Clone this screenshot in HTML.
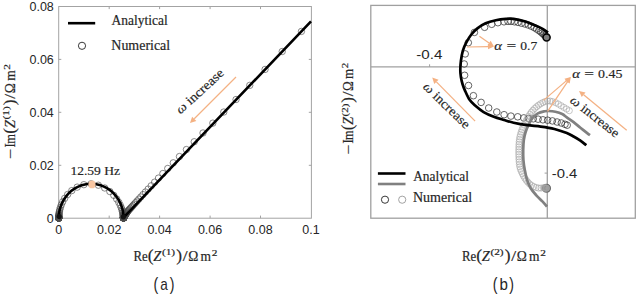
<!DOCTYPE html>
<html><head><meta charset="utf-8"><style>
html,body{margin:0;padding:0;background:#fff;}
body{width:637px;height:294px;overflow:hidden;font-family:"Liberation Sans",sans-serif;}
svg{display:block;}
</style></head><body>
<svg width="637" height="294" viewBox="0 0 637 294">
<rect width="637" height="294" fill="#fff"/>
<g stroke="#a3a3a3" stroke-width="1" fill="none">
<rect x="58.7" y="6.5" width="252.7" height="211.7"/>
<line x1="109.2" y1="218.2" x2="109.2" y2="215.6"/>
<line x1="109.2" y1="6.5" x2="109.2" y2="9.1"/>
<line x1="159.6" y1="218.2" x2="159.6" y2="215.6"/>
<line x1="159.6" y1="6.5" x2="159.6" y2="9.1"/>
<line x1="210.1" y1="218.2" x2="210.1" y2="215.6"/>
<line x1="210.1" y1="6.5" x2="210.1" y2="9.1"/>
<line x1="260.5" y1="218.2" x2="260.5" y2="215.6"/>
<line x1="260.5" y1="6.5" x2="260.5" y2="9.1"/>
<line x1="58.7" y1="165.3" x2="61.3" y2="165.3"/>
<line x1="311.4" y1="165.3" x2="308.8" y2="165.3"/>
<line x1="58.7" y1="112.3" x2="61.3" y2="112.3"/>
<line x1="311.4" y1="112.3" x2="308.8" y2="112.3"/>
<line x1="58.7" y1="59.4" x2="61.3" y2="59.4"/>
<line x1="311.4" y1="59.4" x2="308.8" y2="59.4"/>
</g>
<g font-family="Liberation Sans" font-size="12.5" fill="#262626">
<text x="58.7" y="234.2" text-anchor="middle">0</text>
<text x="109.2" y="234.2" text-anchor="middle">0.02</text>
<text x="159.6" y="234.2" text-anchor="middle">0.04</text>
<text x="210.1" y="234.2" text-anchor="middle">0.06</text>
<text x="260.5" y="234.2" text-anchor="middle">0.08</text>
<text x="311.0" y="234.2" text-anchor="middle">0.1</text>
<text x="53.8" y="222.7" text-anchor="end">0</text>
<text x="53.8" y="169.8" text-anchor="end">0.02</text>
<text x="53.8" y="116.8" text-anchor="end">0.04</text>
<text x="53.8" y="63.9" text-anchor="end">0.06</text>
<text x="53.8" y="11.0" text-anchor="end">0.08</text>
</g>
<g stroke="#4a4a4a" stroke-width="0.65" fill="none">
<circle cx="123.50" cy="218.00" r="3.2"/>
<circle cx="123.50" cy="218.00" r="3.2"/>
<circle cx="123.50" cy="218.00" r="3.2"/>
<circle cx="123.50" cy="218.00" r="3.2"/>
<circle cx="123.50" cy="218.00" r="3.2"/>
<circle cx="123.50" cy="218.00" r="3.2"/>
<circle cx="123.50" cy="218.00" r="3.2"/>
<circle cx="123.50" cy="218.00" r="3.2"/>
<circle cx="123.50" cy="218.00" r="3.2"/>
<circle cx="123.50" cy="218.00" r="3.2"/>
<circle cx="123.50" cy="217.99" r="3.2"/>
<circle cx="123.50" cy="217.99" r="3.2"/>
<circle cx="123.50" cy="217.99" r="3.2"/>
<circle cx="123.50" cy="217.99" r="3.2"/>
<circle cx="123.50" cy="217.99" r="3.2"/>
<circle cx="123.50" cy="217.98" r="3.2"/>
<circle cx="123.50" cy="217.98" r="3.2"/>
<circle cx="123.50" cy="217.97" r="3.2"/>
<circle cx="123.50" cy="217.97" r="3.2"/>
<circle cx="123.50" cy="217.96" r="3.2"/>
<circle cx="123.50" cy="217.95" r="3.2"/>
<circle cx="123.50" cy="217.93" r="3.2"/>
<circle cx="123.49" cy="217.91" r="3.2"/>
<circle cx="123.49" cy="217.89" r="3.2"/>
<circle cx="123.49" cy="217.86" r="3.2"/>
<circle cx="123.49" cy="217.83" r="3.2"/>
<circle cx="123.48" cy="217.78" r="3.2"/>
<circle cx="123.48" cy="217.73" r="3.2"/>
<circle cx="123.47" cy="217.66" r="3.2"/>
<circle cx="123.47" cy="217.57" r="3.2"/>
<circle cx="123.46" cy="217.46" r="3.2"/>
<circle cx="123.45" cy="217.32" r="3.2"/>
<circle cx="123.43" cy="217.14" r="3.2"/>
<circle cx="123.41" cy="216.92" r="3.2"/>
<circle cx="123.38" cy="216.64" r="3.2"/>
<circle cx="123.34" cy="216.29" r="3.2"/>
<circle cx="123.28" cy="215.85" r="3.2"/>
<circle cx="123.21" cy="215.30" r="3.2"/>
<circle cx="123.10" cy="214.61" r="3.2"/>
<circle cx="122.95" cy="213.74" r="3.2"/>
<circle cx="122.73" cy="212.66" r="3.2"/>
<circle cx="122.40" cy="211.33" r="3.2"/>
<circle cx="121.93" cy="209.67" r="3.2"/>
<circle cx="121.25" cy="207.65" r="3.2"/>
<circle cx="120.24" cy="205.22" r="3.2"/>
<circle cx="118.79" cy="202.33" r="3.2"/>
<circle cx="116.71" cy="199.01" r="3.2"/>
<circle cx="113.80" cy="195.34" r="3.2"/>
<circle cx="109.85" cy="191.54" r="3.2"/>
<circle cx="104.69" cy="187.98" r="3.2"/>
<circle cx="98.36" cy="185.20" r="3.2"/>
<circle cx="91.15" cy="183.80" r="3.2"/>
<circle cx="83.83" cy="184.69" r="3.2"/>
<circle cx="77.22" cy="187.13" r="3.2"/>
<circle cx="71.79" cy="190.60" r="3.2"/>
<circle cx="67.65" cy="194.49" r="3.2"/>
<circle cx="64.68" cy="198.34" r="3.2"/>
<circle cx="62.64" cy="201.84" r="3.2"/>
<circle cx="61.28" cy="204.87" r="3.2"/>
<circle cx="60.39" cy="207.42" r="3.2"/>
<circle cx="59.81" cy="209.52" r="3.2"/>
<circle cx="59.44" cy="211.23" r="3.2"/>
<circle cx="59.21" cy="212.60" r="3.2"/>
<circle cx="59.06" cy="213.70" r="3.2"/>
<circle cx="58.96" cy="214.58" r="3.2"/>
<circle cx="58.90" cy="215.28" r="3.2"/>
<circle cx="58.86" cy="215.84" r="3.2"/>
<circle cx="58.84" cy="216.28" r="3.2"/>
<circle cx="58.83" cy="216.64" r="3.2"/>
<circle cx="58.82" cy="216.92" r="3.2"/>
<circle cx="58.81" cy="217.14" r="3.2"/>
<circle cx="58.81" cy="217.32" r="3.2"/>
<circle cx="58.80" cy="217.46" r="3.2"/>
<circle cx="58.80" cy="217.57" r="3.2"/>
<circle cx="58.80" cy="217.66" r="3.2"/>
<circle cx="58.80" cy="217.73" r="3.2"/>
<circle cx="58.80" cy="217.78" r="3.2"/>
<circle cx="58.80" cy="217.83" r="3.2"/>
<circle cx="58.80" cy="217.86" r="3.2"/>
<circle cx="58.80" cy="217.89" r="3.2"/>
<circle cx="58.80" cy="217.91" r="3.2"/>
<circle cx="58.80" cy="217.93" r="3.2"/>
<circle cx="58.80" cy="217.95" r="3.2"/>
<circle cx="58.80" cy="217.96" r="3.2"/>
<circle cx="58.80" cy="217.97" r="3.2"/>
<circle cx="58.80" cy="217.97" r="3.2"/>
<circle cx="58.80" cy="217.98" r="3.2"/>
<circle cx="58.80" cy="217.98" r="3.2"/>
<circle cx="58.80" cy="217.99" r="3.2"/>
<circle cx="58.80" cy="217.99" r="3.2"/>
<circle cx="58.80" cy="217.99" r="3.2"/>
<circle cx="58.80" cy="217.99" r="3.2"/>
<circle cx="58.80" cy="217.99" r="3.2"/>
<circle cx="58.80" cy="218.00" r="3.2"/>
<circle cx="58.80" cy="218.00" r="3.2"/>
<circle cx="58.80" cy="218.00" r="3.2"/>
<circle cx="58.80" cy="218.00" r="3.2"/>
<circle cx="58.80" cy="218.00" r="3.2"/>
<circle cx="58.80" cy="218.00" r="3.2"/>
<circle cx="58.80" cy="218.00" r="3.2"/>
<circle cx="301.44" cy="31.41" r="3.2"/>
<circle cx="282.22" cy="51.51" r="3.2"/>
<circle cx="265.06" cy="69.43" r="3.2"/>
<circle cx="249.75" cy="85.36" r="3.2"/>
<circle cx="236.05" cy="99.51" r="3.2"/>
<circle cx="223.79" cy="112.04" r="3.2"/>
<circle cx="212.82" cy="123.14" r="3.2"/>
<circle cx="203.00" cy="132.97" r="3.2"/>
<circle cx="194.23" cy="141.73" r="3.2"/>
<circle cx="186.41" cy="149.54" r="3.2"/>
<circle cx="179.45" cy="156.53" r="3.2"/>
<circle cx="173.26" cy="162.81" r="3.2"/>
<circle cx="167.76" cy="168.45" r="3.2"/>
<circle cx="162.86" cy="173.51" r="3.2"/>
<circle cx="158.51" cy="178.06" r="3.2"/>
<circle cx="154.64" cy="182.14" r="3.2"/>
<circle cx="151.20" cy="185.80" r="3.2"/>
<circle cx="148.14" cy="189.08" r="3.2"/>
<circle cx="145.41" cy="192.02" r="3.2"/>
<circle cx="142.98" cy="194.64" r="3.2"/>
<circle cx="140.81" cy="196.99" r="3.2"/>
<circle cx="138.88" cy="199.09" r="3.2"/>
<circle cx="137.16" cy="200.96" r="3.2"/>
<circle cx="135.63" cy="202.63" r="3.2"/>
<circle cx="134.26" cy="204.13" r="3.2"/>
<circle cx="133.04" cy="205.46" r="3.2"/>
<circle cx="131.96" cy="206.65" r="3.2"/>
<circle cx="130.99" cy="207.71" r="3.2"/>
<circle cx="130.12" cy="208.66" r="3.2"/>
<circle cx="129.35" cy="209.51" r="3.2"/>
<circle cx="128.66" cy="210.26" r="3.2"/>
<circle cx="128.05" cy="210.93" r="3.2"/>
<circle cx="127.55" cy="211.63" r="3.2"/>
<circle cx="127.11" cy="212.27" r="3.2"/>
<circle cx="126.72" cy="212.85" r="3.2"/>
<circle cx="126.37" cy="213.36" r="3.2"/>
<circle cx="126.06" cy="213.82" r="3.2"/>
<circle cx="125.79" cy="214.23" r="3.2"/>
<circle cx="125.54" cy="214.59" r="3.2"/>
<circle cx="125.32" cy="214.92" r="3.2"/>
<circle cx="125.12" cy="215.21" r="3.2"/>
<circle cx="124.95" cy="215.47" r="3.2"/>
<circle cx="124.79" cy="215.70" r="3.2"/>
<circle cx="124.65" cy="215.90" r="3.2"/>
<circle cx="124.53" cy="216.09" r="3.2"/>
<circle cx="124.42" cy="216.25" r="3.2"/>
<circle cx="124.32" cy="216.39" r="3.2"/>
<circle cx="124.23" cy="216.52" r="3.2"/>
<circle cx="124.15" cy="216.64" r="3.2"/>
<circle cx="124.08" cy="216.74" r="3.2"/>
<circle cx="124.02" cy="216.84" r="3.2"/>
<circle cx="123.96" cy="216.92" r="3.2"/>
<circle cx="123.91" cy="216.99" r="3.2"/>
<circle cx="123.87" cy="217.06" r="3.2"/>
<circle cx="123.83" cy="217.12" r="3.2"/>
<circle cx="123.79" cy="217.17" r="3.2"/>
<circle cx="123.76" cy="217.22" r="3.2"/>
<circle cx="123.73" cy="217.26" r="3.2"/>
<circle cx="123.71" cy="217.29" r="3.2"/>
<circle cx="123.68" cy="217.33" r="3.2"/>
</g>
<path d="M58.80,218.00 L58.82,216.79 L58.88,215.59 L58.98,214.39 L59.12,213.19 L59.30,212.00 L59.52,210.81 L59.78,209.64 L60.08,208.47 L60.42,207.32 L60.79,206.18 L61.21,205.05 L61.66,203.94 L62.15,202.85 L62.67,201.78 L63.23,200.73 L63.82,199.70 L64.45,198.69 L65.11,197.70 L65.81,196.74 L66.53,195.81 L67.29,194.91 L68.07,194.03 L68.89,193.19 L69.73,192.37 L70.60,191.59 L71.49,190.84 L72.41,190.12 L73.36,189.44 L74.32,188.79 L75.31,188.18 L76.31,187.61 L77.33,187.08 L78.38,186.58 L79.43,186.12 L80.50,185.70 L81.59,185.33 L82.69,184.99 L83.79,184.70 L84.91,184.44 L86.03,184.23 L87.16,184.06 L88.30,183.93 L89.44,183.85 L90.58,183.81 L91.72,183.81 L92.86,183.85 L94.00,183.93 L95.14,184.06 L96.27,184.23 L97.39,184.44 L98.51,184.70 L99.61,184.99 L100.71,185.33 L101.80,185.70 L102.87,186.12 L103.92,186.58 L104.97,187.08 L105.99,187.61 L106.99,188.18 L107.98,188.79 L108.94,189.44 L109.89,190.12 L110.81,190.84 L111.70,191.59 L112.57,192.37 L113.41,193.19 L114.23,194.03 L115.01,194.91 L115.77,195.81 L116.49,196.74 L117.19,197.70 L117.85,198.69 L118.48,199.70 L119.07,200.73 L119.63,201.78 L120.15,202.85 L120.64,203.94 L121.09,205.05 L121.51,206.18 L121.88,207.32 L122.22,208.47 L122.52,209.64 L122.78,210.81 L123.00,212.00 L123.18,213.19 L123.32,214.39 L123.42,215.59 L123.48,216.79 L123.50,217.60 L311.00,21.40" stroke="#000" stroke-width="2.6" fill="none" stroke-linejoin="round"/>
<circle cx="59.2" cy="216.6" r="2.6" fill="#111"/>
<circle cx="123.3" cy="216.8" r="2.6" fill="#111"/>
<ellipse cx="92" cy="184.4" rx="3.6" ry="3.9" fill="#f8c6a2"/>
<text x="70.40" y="174.80" font-family="Liberation Serif" font-size="12.80" fill="#262626" textLength="49.60" lengthAdjust="spacingAndGlyphs" stroke="#262626" stroke-width="0.18" >12.59 Hz</text>
<line x1="68" y1="23.2" x2="95.2" y2="23.2" stroke="#000" stroke-width="2.6"/>
<circle cx="82" cy="45.8" r="3.6" stroke="#222" stroke-width="0.9" fill="none"/>
<text transform="translate(111.55,25.10) scale(1,1.070)" font-family="Liberation Serif" font-size="12.70" fill="#262626" textLength="56.20" lengthAdjust="spacingAndGlyphs" stroke="#262626" stroke-width="0.18" >Analytical</text>
<text transform="translate(111.30,50.10) scale(1,1.070)" font-family="Liberation Serif" font-size="12.70" fill="#262626" textLength="58.90" lengthAdjust="spacingAndGlyphs" stroke="#262626" stroke-width="0.18" >Numerical</text>
<line x1="236.00" y1="77.00" x2="194.24" y2="118.76" stroke="#f4b183" stroke-width="1.25"/><path d="M190.00,123.00 L192.12,116.64 L196.36,120.88 Z" fill="#f4b183"/>
<g transform="translate(180.50,114.50) rotate(-42.50)"><text x="0.00" y="0.00" font-family="Liberation Serif" font-size="13.00" fill="#262626" textLength="60.00" lengthAdjust="spacingAndGlyphs" stroke="#262626" stroke-width="0.18" ><tspan font-style="italic">ω</tspan> increase</text></g>
<text transform="translate(133.41,260.70) scale(1,1.060)" font-family="Liberation Serif" font-size="13.00" fill="#262626" textLength="14.23" lengthAdjust="spacingAndGlyphs" stroke="#262626" stroke-width="0.18" >Re</text><text x="147.75" y="260.70" font-family="Liberation Serif" font-size="17.40" fill="#262626" textLength="5.79" lengthAdjust="spacingAndGlyphs" stroke="#262626" stroke-width="0.18" >(</text><text transform="translate(153.32,260.70) scale(1,1.060)" font-family="Liberation Serif" font-size="13.00" font-style="italic" fill="#262626" textLength="8.05" lengthAdjust="spacingAndGlyphs" stroke="#262626" stroke-width="0.18" >Z</text><text x="161.93" y="255.10" font-family="Liberation Serif" font-size="8.50" fill="#262626" textLength="13.21" lengthAdjust="spacingAndGlyphs" stroke="#262626" stroke-width="0.18" >(1)</text><text x="176.20" y="260.70" font-family="Liberation Serif" font-size="17.40" fill="#262626" textLength="5.79" lengthAdjust="spacingAndGlyphs" stroke="#262626" stroke-width="0.18" >)</text><text transform="translate(182.70,260.70) scale(1,1.060)" font-family="Liberation Serif" font-size="13.00" fill="#262626" textLength="4.85" lengthAdjust="spacingAndGlyphs" stroke="#262626" stroke-width="0.18" >/</text><text transform="translate(188.22,260.70) scale(1,1.060)" font-family="Liberation Serif" font-size="13.00" fill="#262626" textLength="10.07" lengthAdjust="spacingAndGlyphs" stroke="#262626" stroke-width="0.18" >Ω</text><text transform="translate(200.54,260.70) scale(1,1.060)" font-family="Liberation Serif" font-size="13.00" fill="#262626" textLength="10.48" lengthAdjust="spacingAndGlyphs" stroke="#262626" stroke-width="0.18" >m</text><text x="211.75" y="255.70" font-family="Liberation Serif" font-size="8.00" fill="#262626" textLength="5.66" lengthAdjust="spacingAndGlyphs" stroke="#262626" stroke-width="0.18" >2</text>
<text transform="translate(461.91,260.70) scale(1,1.060)" font-family="Liberation Serif" font-size="13.00" fill="#262626" textLength="14.23" lengthAdjust="spacingAndGlyphs" stroke="#262626" stroke-width="0.18" >Re</text><text x="476.25" y="260.70" font-family="Liberation Serif" font-size="17.40" fill="#262626" textLength="5.79" lengthAdjust="spacingAndGlyphs" stroke="#262626" stroke-width="0.18" >(</text><text transform="translate(481.82,260.70) scale(1,1.060)" font-family="Liberation Serif" font-size="13.00" font-style="italic" fill="#262626" textLength="8.05" lengthAdjust="spacingAndGlyphs" stroke="#262626" stroke-width="0.18" >Z</text><text x="490.43" y="255.10" font-family="Liberation Serif" font-size="8.50" fill="#262626" textLength="13.21" lengthAdjust="spacingAndGlyphs" stroke="#262626" stroke-width="0.18" >(2)</text><text x="504.70" y="260.70" font-family="Liberation Serif" font-size="17.40" fill="#262626" textLength="5.79" lengthAdjust="spacingAndGlyphs" stroke="#262626" stroke-width="0.18" >)</text><text transform="translate(511.20,260.70) scale(1,1.060)" font-family="Liberation Serif" font-size="13.00" fill="#262626" textLength="4.85" lengthAdjust="spacingAndGlyphs" stroke="#262626" stroke-width="0.18" >/</text><text transform="translate(516.72,260.70) scale(1,1.060)" font-family="Liberation Serif" font-size="13.00" fill="#262626" textLength="10.07" lengthAdjust="spacingAndGlyphs" stroke="#262626" stroke-width="0.18" >Ω</text><text transform="translate(529.04,260.70) scale(1,1.060)" font-family="Liberation Serif" font-size="13.00" fill="#262626" textLength="10.48" lengthAdjust="spacingAndGlyphs" stroke="#262626" stroke-width="0.18" >m</text><text x="540.25" y="255.70" font-family="Liberation Serif" font-size="8.00" fill="#262626" textLength="5.66" lengthAdjust="spacingAndGlyphs" stroke="#262626" stroke-width="0.18" >2</text>
<g transform="translate(14.60,157.90) rotate(-90) scale(1.0000,1)"><text transform="translate(-1.05,0.00) scale(1,1.060)" font-family="Liberation Serif" font-size="13.00" fill="#262626" textLength="10.26" lengthAdjust="spacingAndGlyphs" stroke="#262626" stroke-width="0.18" >−</text><text transform="translate(10.50,0.00) scale(1,1.060)" font-family="Liberation Serif" font-size="13.00" fill="#262626" stroke="#262626" stroke-width="0.18" >I</text><text transform="translate(14.05,0.00) scale(1,1.060)" font-family="Liberation Serif" font-size="13.00" fill="#262626" textLength="9.65" lengthAdjust="spacingAndGlyphs" stroke="#262626" stroke-width="0.18" >m</text><text x="24.25" y="0.00" font-family="Liberation Serif" font-size="17.40" fill="#262626" textLength="5.79" lengthAdjust="spacingAndGlyphs" stroke="#262626" stroke-width="0.18" >(</text><text transform="translate(29.82,0.00) scale(1,1.060)" font-family="Liberation Serif" font-size="13.00" font-style="italic" fill="#262626" textLength="8.05" lengthAdjust="spacingAndGlyphs" stroke="#262626" stroke-width="0.18" >Z</text><text x="38.43" y="-5.60" font-family="Liberation Serif" font-size="8.50" fill="#262626" textLength="13.21" lengthAdjust="spacingAndGlyphs" stroke="#262626" stroke-width="0.18" >(1)</text><text x="52.70" y="0.00" font-family="Liberation Serif" font-size="17.40" fill="#262626" textLength="5.79" lengthAdjust="spacingAndGlyphs" stroke="#262626" stroke-width="0.18" >)</text><text transform="translate(59.20,0.00) scale(1,1.060)" font-family="Liberation Serif" font-size="13.00" fill="#262626" textLength="4.85" lengthAdjust="spacingAndGlyphs" stroke="#262626" stroke-width="0.18" >/</text><text transform="translate(64.72,0.00) scale(1,1.060)" font-family="Liberation Serif" font-size="13.00" fill="#262626" textLength="10.07" lengthAdjust="spacingAndGlyphs" stroke="#262626" stroke-width="0.18" >Ω</text><text transform="translate(77.04,0.00) scale(1,1.060)" font-family="Liberation Serif" font-size="13.00" fill="#262626" textLength="10.48" lengthAdjust="spacingAndGlyphs" stroke="#262626" stroke-width="0.18" >m</text><text x="88.25" y="-5.00" font-family="Liberation Serif" font-size="8.00" fill="#262626" textLength="5.66" lengthAdjust="spacingAndGlyphs" stroke="#262626" stroke-width="0.18" >2</text></g>
<g transform="translate(353.10,153.60) rotate(-90) scale(0.9668,1)"><text transform="translate(-1.05,0.00) scale(1,1.060)" font-family="Liberation Serif" font-size="13.00" fill="#262626" textLength="10.26" lengthAdjust="spacingAndGlyphs" stroke="#262626" stroke-width="0.18" >−</text><text transform="translate(10.50,0.00) scale(1,1.060)" font-family="Liberation Serif" font-size="13.00" fill="#262626" stroke="#262626" stroke-width="0.18" >I</text><text transform="translate(14.05,0.00) scale(1,1.060)" font-family="Liberation Serif" font-size="13.00" fill="#262626" textLength="9.65" lengthAdjust="spacingAndGlyphs" stroke="#262626" stroke-width="0.18" >m</text><text x="24.25" y="0.00" font-family="Liberation Serif" font-size="17.40" fill="#262626" textLength="5.79" lengthAdjust="spacingAndGlyphs" stroke="#262626" stroke-width="0.18" >(</text><text transform="translate(29.82,0.00) scale(1,1.060)" font-family="Liberation Serif" font-size="13.00" font-style="italic" fill="#262626" textLength="8.05" lengthAdjust="spacingAndGlyphs" stroke="#262626" stroke-width="0.18" >Z</text><text x="38.43" y="-5.60" font-family="Liberation Serif" font-size="8.50" fill="#262626" textLength="13.21" lengthAdjust="spacingAndGlyphs" stroke="#262626" stroke-width="0.18" >(2)</text><text x="52.70" y="0.00" font-family="Liberation Serif" font-size="17.40" fill="#262626" textLength="5.79" lengthAdjust="spacingAndGlyphs" stroke="#262626" stroke-width="0.18" >)</text><text transform="translate(59.20,0.00) scale(1,1.060)" font-family="Liberation Serif" font-size="13.00" fill="#262626" textLength="4.85" lengthAdjust="spacingAndGlyphs" stroke="#262626" stroke-width="0.18" >/</text><text transform="translate(64.72,0.00) scale(1,1.060)" font-family="Liberation Serif" font-size="13.00" fill="#262626" textLength="10.07" lengthAdjust="spacingAndGlyphs" stroke="#262626" stroke-width="0.18" >Ω</text><text transform="translate(77.04,0.00) scale(1,1.060)" font-family="Liberation Serif" font-size="13.00" fill="#262626" textLength="10.48" lengthAdjust="spacingAndGlyphs" stroke="#262626" stroke-width="0.18" >m</text><text x="88.25" y="-5.00" font-family="Liberation Serif" font-size="8.00" fill="#262626" textLength="5.66" lengthAdjust="spacingAndGlyphs" stroke="#262626" stroke-width="0.18" >2</text></g>
<text x="153.60" y="289.80" font-family="Liberation Sans" font-size="17.60" fill="#262626" textLength="4.69" lengthAdjust="spacingAndGlyphs" >(</text>
<text x="160.30" y="289.80" font-family="Liberation Sans" font-size="17.00" fill="#262626" textLength="7.56" lengthAdjust="spacingAndGlyphs" >a</text>
<text x="169.70" y="289.80" font-family="Liberation Sans" font-size="17.60" fill="#262626" textLength="4.69" lengthAdjust="spacingAndGlyphs" >)</text>
<text x="492.80" y="289.80" font-family="Liberation Sans" font-size="17.60" fill="#262626" textLength="4.69" lengthAdjust="spacingAndGlyphs" >(</text>
<text x="499.60" y="289.80" font-family="Liberation Sans" font-size="17.00" fill="#262626" textLength="8.41" lengthAdjust="spacingAndGlyphs" >b</text>
<text x="509.30" y="289.80" font-family="Liberation Sans" font-size="17.60" fill="#262626" textLength="4.69" lengthAdjust="spacingAndGlyphs" >)</text>
<rect x="370.8" y="5.4" width="264.5" height="212.8" stroke="#a0a0a0" stroke-width="1.3" fill="none"/>
<line x1="547.3" y1="5.4" x2="547.3" y2="218.2" stroke="#a0a0a0" stroke-width="1.3"/>
<line x1="370.8" y1="66.9" x2="635.3" y2="66.9" stroke="#a0a0a0" stroke-width="1.3"/>
<line x1="429.6" y1="66.9" x2="429.6" y2="64.3" stroke="#a0a0a0" stroke-width="1"/>
<line x1="547.3" y1="173.1" x2="544.6" y2="173.1" stroke="#a0a0a0" stroke-width="1"/>
<text x="416.30" y="59.20" font-family="Liberation Sans" font-size="13.50" fill="#262626" textLength="26.13" lengthAdjust="spacingAndGlyphs" >-0.4</text>
<text x="551.70" y="177.60" font-family="Liberation Sans" font-size="13.50" fill="#262626" textLength="25.61" lengthAdjust="spacingAndGlyphs" >-0.4</text>
<g stroke="#333" stroke-width="0.75" fill="none">
<circle cx="464.20" cy="64.00" r="3.3"/>
<circle cx="464.60" cy="75.30" r="3.3"/>
<circle cx="468.50" cy="85.50" r="3.3"/>
<circle cx="473.40" cy="95.70" r="3.3"/>
<circle cx="481.10" cy="102.40" r="3.3"/>
<circle cx="488.70" cy="108.00" r="3.3"/>
<circle cx="496.80" cy="112.00" r="3.3"/>
<circle cx="504.10" cy="114.70" r="3.3"/>
<circle cx="510.90" cy="116.10" r="3.3"/>
<circle cx="517.70" cy="116.80" r="3.3"/>
<circle cx="523.80" cy="117.90" r="3.3"/>
<circle cx="528.60" cy="118.40" r="3.3"/>
<circle cx="533.30" cy="118.80" r="3.3"/>
<circle cx="538.10" cy="119.20" r="3.3"/>
<circle cx="542.90" cy="119.80" r="3.3"/>
<circle cx="547.60" cy="120.20" r="3.3"/>
<circle cx="552.40" cy="120.90" r="3.3"/>
<circle cx="557.10" cy="122.00" r="3.3"/>
<circle cx="561.30" cy="123.00" r="3.3"/>
<circle cx="565.00" cy="124.30" r="3.3"/>
<circle cx="567.20" cy="125.20" r="3.3"/>
<circle cx="465.20" cy="53.90" r="3.3"/>
<circle cx="468.30" cy="42.70" r="3.3"/>
<circle cx="474.40" cy="32.40" r="3.3"/>
<circle cx="484.60" cy="27.30" r="3.3"/>
<circle cx="491.70" cy="24.30" r="3.3"/>
<circle cx="497.90" cy="22.70" r="3.3"/>
<circle cx="504.00" cy="21.80" r="3.3"/>
<circle cx="508.00" cy="21.40" r="3.3"/>
<circle cx="511.00" cy="21.40" r="3.3"/>
<circle cx="514.50" cy="21.80" r="3.3"/>
<circle cx="518.00" cy="22.40" r="3.3"/>
<circle cx="521.50" cy="23.20" r="3.3"/>
<circle cx="525.00" cy="24.00" r="3.3"/>
<circle cx="528.30" cy="25.00" r="3.3"/>
<circle cx="531.30" cy="26.20" r="3.3"/>
<circle cx="534.20" cy="27.60" r="3.3"/>
<circle cx="536.50" cy="29.00" r="3.3"/>
<circle cx="538.80" cy="30.50" r="3.3"/>
<circle cx="540.70" cy="31.90" r="3.3"/>
<circle cx="542.30" cy="33.20" r="3.3"/>
<circle cx="543.60" cy="34.30" r="3.3"/>
<circle cx="544.70" cy="35.30" r="3.3"/>
<circle cx="545.60" cy="36.10" r="3.3"/>
<circle cx="546.30" cy="36.70" r="3.3"/>
<circle cx="546.80" cy="37.10" r="3.3"/>
</g>
<circle cx="546.5" cy="188.2" r="3.9" fill="#9c9c9c" stroke="#6a6a6a" stroke-width="1.3"/>
<circle cx="546.5" cy="188.2" r="2.0" fill="none" stroke="#8a8a8a" stroke-width="0.8"/>
<g stroke="#a2a2a2" stroke-width="0.6" fill="none">
<circle cx="546.50" cy="188.20" r="3.1"/>
<circle cx="545.91" cy="188.08" r="3.1"/>
<circle cx="545.32" cy="187.97" r="3.1"/>
<circle cx="544.73" cy="187.88" r="3.1"/>
<circle cx="544.13" cy="187.82" r="3.1"/>
<circle cx="543.53" cy="187.80" r="3.1"/>
<circle cx="541.05" cy="188.05" r="3.1"/>
<circle cx="538.55" cy="188.06" r="3.1"/>
<circle cx="536.12" cy="187.48" r="3.1"/>
<circle cx="533.78" cy="186.62" r="3.1"/>
<circle cx="531.57" cy="185.45" r="3.1"/>
<circle cx="529.60" cy="183.92" r="3.1"/>
<circle cx="527.83" cy="182.15" r="3.1"/>
<circle cx="526.24" cy="180.22" r="3.1"/>
<circle cx="524.82" cy="178.17" r="3.1"/>
<circle cx="523.54" cy="176.02" r="3.1"/>
<circle cx="522.39" cy="173.80" r="3.1"/>
<circle cx="521.35" cy="171.53" r="3.1"/>
<circle cx="520.43" cy="169.20" r="3.1"/>
<circle cx="519.80" cy="166.79" r="3.1"/>
<circle cx="519.41" cy="164.32" r="3.1"/>
<circle cx="519.16" cy="161.83" r="3.1"/>
<circle cx="518.99" cy="159.34" r="3.1"/>
<circle cx="518.87" cy="156.84" r="3.1"/>
<circle cx="518.81" cy="154.34" r="3.1"/>
<circle cx="518.80" cy="151.84" r="3.1"/>
<circle cx="518.83" cy="149.34" r="3.1"/>
<circle cx="518.89" cy="146.84" r="3.1"/>
<circle cx="519.00" cy="144.34" r="3.1"/>
<circle cx="519.19" cy="141.85" r="3.1"/>
<circle cx="519.48" cy="139.37" r="3.1"/>
<circle cx="519.91" cy="136.91" r="3.1"/>
<circle cx="520.49" cy="134.47" r="3.1"/>
<circle cx="521.20" cy="132.08" r="3.1"/>
<circle cx="522.03" cy="129.72" r="3.1"/>
<circle cx="522.94" cy="127.39" r="3.1"/>
<circle cx="523.95" cy="125.11" r="3.1"/>
<circle cx="525.05" cy="122.86" r="3.1"/>
<circle cx="526.20" cy="120.64" r="3.1"/>
<circle cx="527.40" cy="118.45" r="3.1"/>
<circle cx="528.64" cy="116.28" r="3.1"/>
<circle cx="529.94" cy="114.14" r="3.1"/>
<circle cx="531.40" cy="112.11" r="3.1"/>
<circle cx="533.00" cy="110.20" r="3.1"/>
<circle cx="534.73" cy="108.39" r="3.1"/>
<circle cx="536.60" cy="106.73" r="3.1"/>
<circle cx="538.56" cy="105.18" r="3.1"/>
<circle cx="540.62" cy="103.77" r="3.1"/>
<circle cx="542.83" cy="102.59" r="3.1"/>
<circle cx="545.11" cy="101.56" r="3.1"/>
<circle cx="547.52" cy="100.94" r="3.1"/>
<circle cx="550.01" cy="101.04" r="3.1"/>
<circle cx="552.45" cy="101.59" r="3.1"/>
<circle cx="555.47" cy="102.63" r="3.1"/>
<circle cx="558.33" cy="104.06" r="3.1"/>
<circle cx="561.07" cy="105.72" r="3.1"/>
<circle cx="563.82" cy="107.36" r="3.1"/>
<circle cx="566.55" cy="109.02" r="3.1"/>
<circle cx="569.28" cy="110.69" r="3.1"/>
</g>
<path d="M547.00,206.60 C546.23,205.73 544.18,203.28 542.40,201.40 C540.62,199.52 538.25,197.50 536.30,195.30 C534.35,193.10 532.23,190.75 530.70,188.20 C529.17,185.65 528.08,183.03 527.10,180.00 C526.12,176.97 525.42,173.33 524.80,170.00 C524.18,166.67 523.67,163.33 523.40,160.00 C523.13,156.67 523.13,153.33 523.20,150.00 C523.27,146.67 523.40,143.00 523.80,140.00 C524.20,137.00 524.85,134.42 525.60,132.00 C526.35,129.58 527.17,127.82 528.30,125.50 C529.43,123.18 530.80,120.12 532.40,118.10 C534.00,116.08 535.85,114.53 537.90,113.40 C539.95,112.27 542.92,111.70 544.70,111.30 C546.48,110.90 546.82,110.92 548.60,111.00 C550.38,111.08 553.13,111.30 555.40,111.80 C557.67,112.30 560.30,113.07 562.20,114.00 C564.10,114.93 564.90,116.03 566.80,117.40 C568.70,118.77 571.33,120.48 573.60,122.20 C575.87,123.92 578.13,125.88 580.40,127.70 C582.67,129.52 585.60,131.85 587.20,133.10 C588.80,134.35 589.53,134.85 590.00,135.20" stroke="#808080" stroke-width="2.7" fill="none"/>
<path d="M548.00,32.60 C547.03,31.93 544.53,29.87 542.20,28.60 C539.87,27.33 536.95,26.23 534.00,25.00 C531.05,23.77 527.90,22.23 524.50,21.20 C521.10,20.17 516.68,19.20 513.60,18.80 C510.52,18.40 508.97,18.57 506.00,18.80 C503.03,19.03 499.20,19.45 495.80,20.20 C492.40,20.95 488.67,21.93 485.60,23.30 C482.53,24.67 479.78,26.53 477.40,28.40 C475.02,30.27 473.17,32.12 471.30,34.50 C469.43,36.88 467.62,39.98 466.20,42.70 C464.78,45.42 463.68,47.75 462.80,50.80 C461.92,53.85 461.32,57.80 460.90,61.00 C460.48,64.20 460.30,67.33 460.30,70.00 C460.30,72.67 460.53,74.67 460.90,77.00 C461.27,79.33 461.82,81.73 462.50,84.00 C463.18,86.27 463.82,87.97 465.00,90.60 C466.18,93.23 467.87,97.27 469.60,99.80 C471.33,102.33 473.07,103.75 475.40,105.80 C477.73,107.85 480.53,110.27 483.60,112.10 C486.67,113.93 490.40,115.48 493.80,116.80 C497.20,118.12 500.70,119.02 504.00,120.00 C507.30,120.98 509.73,121.83 513.60,122.70 C517.47,123.57 522.67,124.55 527.20,125.20 C531.73,125.85 536.27,125.97 540.80,126.60 C545.33,127.23 550.07,127.92 554.40,129.00 C558.73,130.08 563.60,131.85 566.80,133.10 C570.00,134.35 571.33,135.25 573.60,136.50 C575.87,137.75 578.28,139.13 580.40,140.60 C582.52,142.07 585.32,144.52 586.30,145.30" stroke="#000" stroke-width="2.7" fill="none"/>
<circle cx="546.6" cy="37.4" r="3.5" fill="#7e7e7e" stroke="#050505" stroke-width="1.5"/>
<line x1="466.90" y1="47.00" x2="488.00" y2="46.53" stroke="#f4b183" stroke-width="1.25"/><path d="M494.00,46.40 L488.06,49.28 L487.94,43.78 Z" fill="#f4b183"/>
<line x1="479.40" y1="36.30" x2="489.07" y2="42.99" stroke="#f4b183" stroke-width="1.25"/><path d="M494.00,46.40 L487.50,45.25 L490.63,40.72 Z" fill="#f4b183"/>
<line x1="543.50" y1="100.40" x2="566.24" y2="80.90" stroke="#f4b183" stroke-width="1.25"/><path d="M570.80,77.00 L568.03,82.99 L564.45,78.82 Z" fill="#f4b183"/>
<line x1="547.60" y1="111.30" x2="567.44" y2="81.97" stroke="#f4b183" stroke-width="1.25"/><path d="M570.80,77.00 L569.72,83.51 L565.16,80.43 Z" fill="#f4b183"/>
<line x1="475.10" y1="121.10" x2="436.41" y2="81.87" stroke="#f4b183" stroke-width="1.25"/><path d="M432.20,77.60 L438.55,79.77 L434.28,83.98 Z" fill="#f4b183"/>
<line x1="626.70" y1="130.30" x2="583.63" y2="94.72" stroke="#f4b183" stroke-width="1.25"/><path d="M579.00,90.90 L585.54,92.41 L581.72,97.03 Z" fill="#f4b183"/>
<text x="494.20" y="50.40" font-family="Liberation Serif" font-size="13.50" font-style="italic" fill="#262626" textLength="7.76" lengthAdjust="spacingAndGlyphs" stroke="#262626" stroke-width="0.18" >α</text><text x="506.55" y="50.40" font-family="Liberation Serif" font-size="13.50" fill="#262626" textLength="9.75" lengthAdjust="spacingAndGlyphs" stroke="#262626" stroke-width="0.18" >=</text><text x="520.20" y="50.40" font-family="Liberation Serif" font-size="13.50" fill="#262626" textLength="16.98" lengthAdjust="spacingAndGlyphs" stroke="#262626" stroke-width="0.18" >0.7</text>
<text x="572.20" y="78.00" font-family="Liberation Serif" font-size="13.50" font-style="italic" fill="#262626" textLength="7.76" lengthAdjust="spacingAndGlyphs" stroke="#262626" stroke-width="0.18" >α</text><text x="584.25" y="78.00" font-family="Liberation Serif" font-size="13.50" fill="#262626" textLength="9.75" lengthAdjust="spacingAndGlyphs" stroke="#262626" stroke-width="0.18" >=</text><text x="598.00" y="78.00" font-family="Liberation Serif" font-size="13.50" fill="#262626" textLength="24.35" lengthAdjust="spacingAndGlyphs" stroke="#262626" stroke-width="0.18" >0.45</text>
<g transform="translate(422.20,87.50) rotate(44.20)"><text x="0.00" y="0.00" font-family="Liberation Serif" font-size="13.00" fill="#262626" textLength="60.00" lengthAdjust="spacingAndGlyphs" stroke="#262626" stroke-width="0.18" ><tspan font-style="italic">ω</tspan> increase</text></g>
<g transform="translate(569.30,101.80) rotate(38.20)"><text x="0.00" y="0.00" font-family="Liberation Serif" font-size="13.00" fill="#262626" textLength="58.50" lengthAdjust="spacingAndGlyphs" stroke="#262626" stroke-width="0.18" ><tspan font-style="italic">ω</tspan> increase</text></g>
<line x1="377.9" y1="173.5" x2="405.5" y2="173.5" stroke="#000" stroke-width="2.6"/>
<line x1="377.9" y1="184" x2="405.5" y2="184" stroke="#808080" stroke-width="2.6"/>
<circle cx="385" cy="199.7" r="3.6" stroke="#222" stroke-width="0.9" fill="none"/>
<circle cx="402.2" cy="199.7" r="3.6" stroke="#999" stroke-width="0.9" fill="none"/>
<text transform="translate(413.15,181.00) scale(1,1.070)" font-family="Liberation Serif" font-size="12.70" fill="#262626" textLength="55.82" lengthAdjust="spacingAndGlyphs" stroke="#262626" stroke-width="0.18" >Analytical</text>
<text transform="translate(412.90,201.50) scale(1,1.070)" font-family="Liberation Serif" font-size="12.70" fill="#262626" textLength="59.14" lengthAdjust="spacingAndGlyphs" stroke="#262626" stroke-width="0.18" >Numerical</text>
</svg>
</body></html>
